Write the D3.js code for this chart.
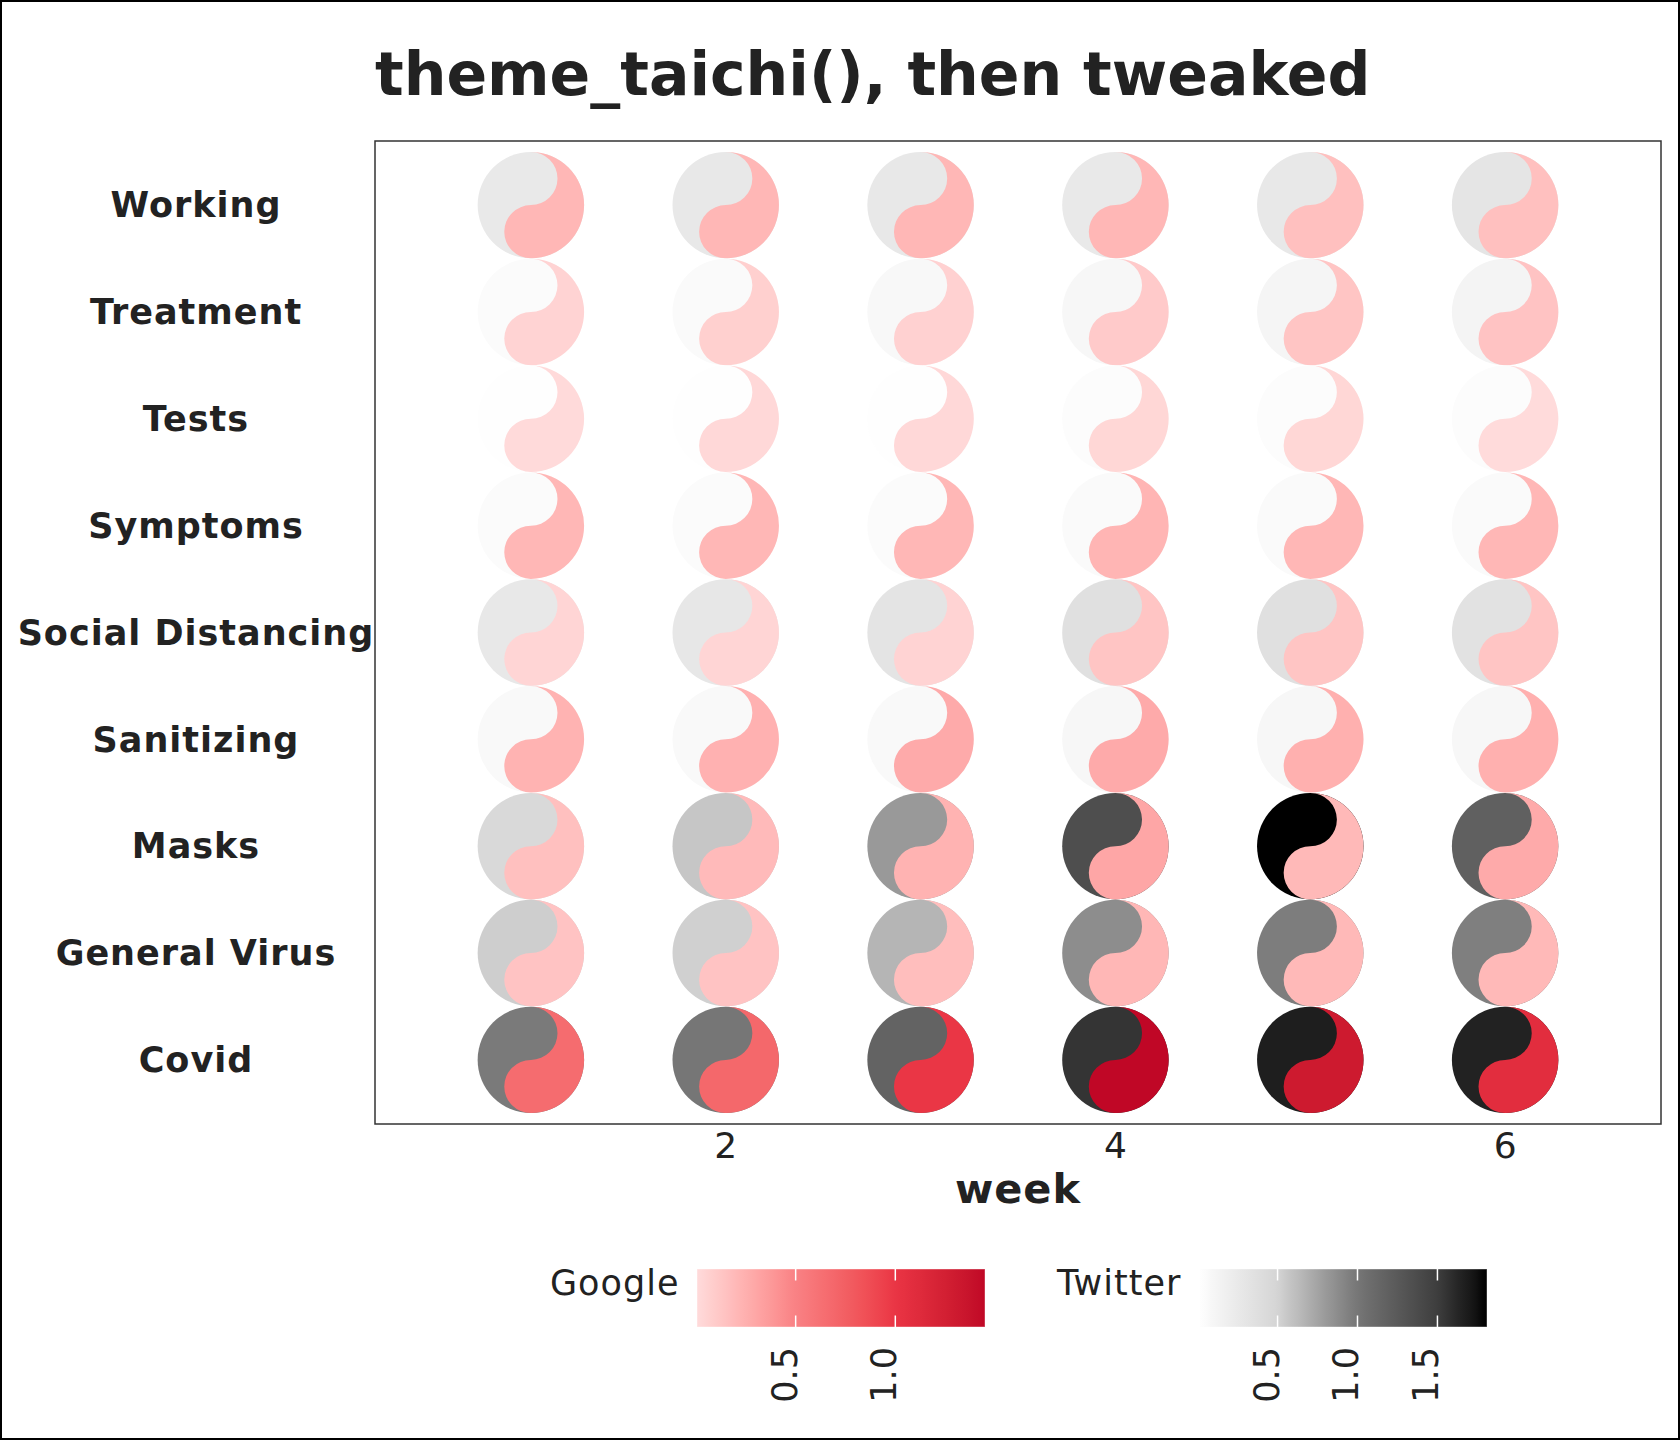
<!DOCTYPE html>
<html>
<head>
<meta charset="utf-8">
<script src="https://cdn.jsdelivr.net/npm/d3@7"></script>
<style>
  body { margin: 0; background: #fff; }
  text { font-family: "DejaVu Sans", sans-serif; fill: #222; }
  .small { letter-spacing: 1px; }
</style>
</head>
<body>
<svg width="1680" height="1440"></svg>
<script>
// Topics top to bottom, weeks 1..6
const topics = ["Working", "Treatment", "Tests", "Symptoms", "Social Distancing",
                "Sanitizing", "Masks", "General Virus", "Covid"];
const weeks = [1, 2, 3, 4, 5, 6];

// Google (red half) values, one row per topic
const googleValues = [
  [0.21, 0.21, 0.21, 0.21, 0.16, 0.16],
  [0.05, 0.07, 0.06, 0.10, 0.13, 0.14],
  [0.01, 0.02, 0.02, 0.03, 0.03, 0.005],
  [0.21, 0.21, 0.21, 0.22, 0.21, 0.21],
  [0.04, 0.04, 0.05, 0.13, 0.13, 0.13],
  [0.23, 0.24, 0.28, 0.28, 0.25, 0.25],
  [0.16, 0.19, 0.23, 0.30, 0.20, 0.28],
  [0.14, 0.14, 0.17, 0.21, 0.20, 0.20],
  [0.66, 0.69, 0.99, 1.45, 1.31, 1.09]
];

// Twitter (grey half) values
const twitterValues = [
  [0.25, 0.27, 0.27, 0.25, 0.27, 0.30],
  [0.05, 0.06, 0.08, 0.09, 0.12, 0.13],
  [0.015, 0.015, 0.015, 0.03, 0.03, 0.03],
  [0.05, 0.05, 0.05, 0.06, 0.06, 0.06],
  [0.27, 0.28, 0.31, 0.36, 0.36, 0.34],
  [0.07, 0.07, 0.07, 0.09, 0.09, 0.09],
  [0.44, 0.57, 0.81, 1.35, 1.81, 1.19],
  [0.53, 0.52, 0.66, 0.87, 0.96, 0.95],
  [0.98, 1.00, 1.16, 1.55, 1.67, 1.65]
];

// colour ramps
const googleStops = [0, 0.5, 1.0, 1.45];
const googleColors = ["#FFDCDC", "#F98184", "#EA3444", "#C00726"];
const twitterStops = [0, 0.5, 1.0, 1.5, 1.8];
const twitterColors = ["#FFFFFF", "#D4D4D4", "#767676", "#3E3E3E", "#000000"];

const xTicks = [2, 4, 6];
const googleTicks = [0.5, 1.0];
const twitterTicks = [0.5, 1.0, 1.5];

const svg = d3.select("svg");
const W = 1680, H = 1440;
const panel = { left: 375, top: 141, right: 1661, bottom: 1124 };

const data = [];
topics.forEach((t, i) => weeks.forEach((w, j) => data.push({
  topic: t, week: w, google: googleValues[i][j], twitter: twitterValues[i][j]
})));

const googleColor = d3.scaleLinear().domain(googleStops).range(googleColors)
  .interpolate(d3.interpolateLab).clamp(true);
const twitterColor = d3.scaleLinear().domain(twitterStops).range(twitterColors)
  .interpolate(d3.interpolateLab).clamp(true);

const x = d3.scaleLinear().domain([0.2, 6.8]).range([panel.left, panel.right]);
const y = d3.scalePoint().domain(topics).range([panel.top, panel.bottom]).padding(0.6);
const r = y.step() / 2 - 0.2;

// outer frame
svg.append("rect").attr("x", 1).attr("y", 1).attr("width", W - 2).attr("height", H - 2)
  .attr("fill", "#fff").attr("stroke", "#000").attr("stroke-width", 2);

svg.append("text").attr("x", panel.left).attr("y", 95)
  .attr("font-size", 60).attr("font-weight", "bold")
  .text("theme_taichi(), then tweaked");

// red half: right half of disc, minus upper small half, plus lower small half
const redPath = `M0,${-r} A${r},${r} 0 0 1 0,${r} A${r / 2},${r / 2} 0 0 1 0,0 A${r / 2},${r / 2} 0 0 0 0,${-r} Z`;

const glyphs = svg.append("g").selectAll("g").data(data).join("g")
  .attr("transform", d => `translate(${x(d.week)},${y(d.topic)})`);
glyphs.append("circle").attr("r", r).attr("fill", d => twitterColor(d.twitter));
glyphs.append("path").attr("d", redPath).attr("fill", d => googleColor(d.google));

svg.append("rect")
  .attr("x", panel.left).attr("y", panel.top)
  .attr("width", panel.right - panel.left).attr("height", panel.bottom - panel.top)
  .attr("fill", "none").attr("stroke", "#333").attr("stroke-width", 1.5);

// y labels
svg.append("g").selectAll("text").data(topics).join("text")
  .attr("class", "small")
  .attr("x", 196).attr("y", d => y(d)).attr("dy", "0.35em")
  .attr("text-anchor", "middle").attr("font-size", 35).attr("font-weight", "bold")
  .text(d => d);

// x axis
svg.append("g").selectAll("text").data(xTicks).join("text")
  .attr("x", d => x(d)).attr("y", 1158)
  .attr("text-anchor", "middle").attr("font-size", 36)
  .text(d => d);

svg.append("text").attr("class", "small")
  .attr("x", (panel.left + panel.right) / 2).attr("y", 1203)
  .attr("text-anchor", "middle").attr("font-size", 41.5).attr("font-weight", "bold")
  .text("week");

// colourbar legends
const defs = svg.append("defs");
function colourbar(id, title, titleX, colorScale, values, ticks, x0, x1) {
  const ext = d3.extent(values.flat());
  const lx = d3.scaleLinear().domain(ext).range([x0, x1]);
  const grad = defs.append("linearGradient").attr("id", id)
    .attr("x1", "0%").attr("x2", "100%").attr("y1", "0%").attr("y2", "0%");
  d3.range(0, 1.0001, 0.02).forEach(t => {
    grad.append("stop").attr("offset", `${t * 100}%`)
      .attr("stop-color", colorScale(ext[0] + t * (ext[1] - ext[0])));
  });
  const g = svg.append("g");
  const top = 1269, h = 58;
  g.append("text").attr("class", "small").attr("x", titleX).attr("y", 1295)
    .attr("font-size", 35).text(title);
  g.append("rect").attr("x", x0).attr("y", top).attr("width", x1 - x0).attr("height", h)
    .attr("fill", `url(#${id})`).attr("stroke", "#fff").attr("stroke-opacity", 0.4);
  ticks.forEach(t => {
    g.append("line").attr("x1", lx(t)).attr("x2", lx(t)).attr("y1", top).attr("y2", top + 11.5)
      .attr("stroke", "#fff").attr("stroke-width", 1.5);
    g.append("line").attr("x1", lx(t)).attr("x2", lx(t)).attr("y1", top + h - 11.5).attr("y2", top + h)
      .attr("stroke", "#fff").attr("stroke-width", 1.5);
    g.append("text").attr("transform", `translate(${lx(t) + 1},1347) rotate(-90)`)
      .attr("text-anchor", "end").attr("font-size", 35)
      .text(d3.format(".1f")(t));
  });
}
colourbar("gGoogle", "Google", 550, googleColor, googleValues, googleTicks, 697, 985);
colourbar("gTwitter", "Twitter", 1057, twitterColor, twitterValues, twitterTicks, 1200, 1487);
</script>
</body>
</html>
